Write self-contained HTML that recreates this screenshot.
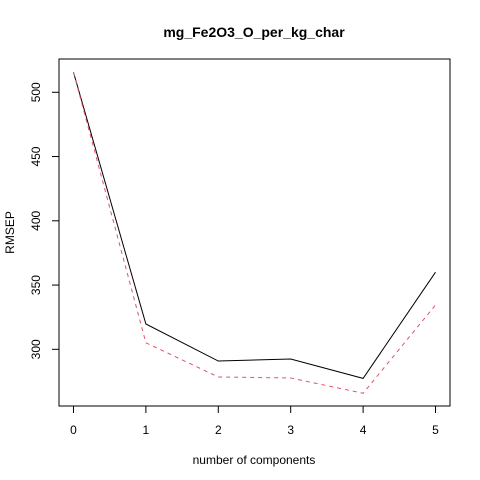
<!DOCTYPE html>
<html><head><meta charset="utf-8"><style>body{margin:0;background:#fff}svg{display:block;font-family:"Liberation Sans",Arial,sans-serif}</style></head>
<body>
<svg width="480" height="480" id="c">
<text x="254" y="37" text-anchor="middle" font-size="14" font-weight="bold">mg_Fe2O3_O_per_kg_char</text>
<text x="254" y="464" text-anchor="middle" font-size="12">number of components</text>
<text transform="translate(14,232.5) rotate(-90)" text-anchor="middle" font-size="12">RMSEP</text>
<rect x="59" y="59" width="391" height="347" fill="none" stroke="#000"/>
<g id="ax"></g>
</svg>
<script>
const comps=[0,1,2,3,4,5];
const cvValues=[515.6,319.7,290.9,292.5,277.4,360.0];
const adjCvValues=[515.6,305.1,278.5,277.7,265.8,334.5];
const xTicks=[0,1,2,3,4,5];
const yTicks=[300,350,400,450,500];
const L=59,R=450,T=59,B=406,xmin=-0.2,xmax=5.2,ymin=255.9,ymax=525.9;
const sx=v=>L+(v-xmin)/(xmax-xmin)*(R-L);
const sy=v=>B-(v-ymin)/(ymax-ymin)*(B-T);
const ns="http://www.w3.org/2000/svg",g=document.getElementById('ax');
function mk(t,a){const e=document.createElementNS(ns,t);for(const k in a)e.setAttribute(k,a[k]);g.appendChild(e);return e;}
let e=mk('line',{x1:sx(0),x2:sx(5),y1:B,y2:B,stroke:'#000'});


xTicks.forEach(t=>{let l=mk('line',{x1:sx(t),x2:sx(t),y1:B,y2:B+7,stroke:'#000'});


let s=mk('text',{x:sx(t),y:B+28,'text-anchor':'middle','font-size':12});s.textContent=t;

});
e=mk('line',{x1:L,x2:L,y1:sy(300),y2:sy(500),stroke:'#000'});


yTicks.forEach(t=>{let l=mk('line',{x1:L-7,x2:L,y1:sy(t),y2:sy(t),stroke:'#000'});


let s=mk('text',{transform:`translate(${L-19},${sy(t)}) rotate(-90)`,'text-anchor':'middle','font-size':12});s.textContent=t;

});
const p1=mk('polyline',{points:comps.map((c,i)=>sx(c)+','+sy(cvValues[i])).join(' '),fill:'none',stroke:'#000','stroke-width':1});


const p2=mk('polyline',{points:comps.map((c,i)=>sx(c)+','+sy(adjCvValues[i])).join(' '),fill:'none',stroke:'#DF536B','stroke-width':1,'stroke-dasharray':'4,4'});


</script>
</body></html>
